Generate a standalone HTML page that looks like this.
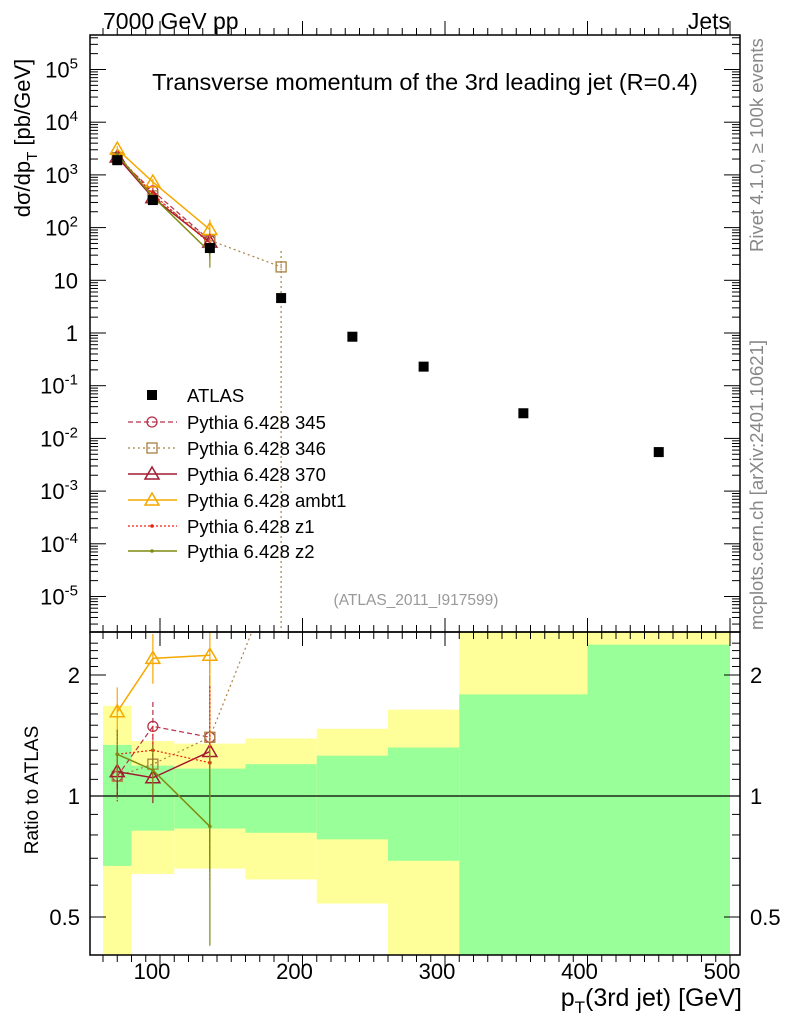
<!DOCTYPE html>
<html><head><meta charset="utf-8"><style>
html,body{margin:0;padding:0;background:#fff;}
svg{display:block;font-family:"Liberation Sans",sans-serif;}
</style></head><body>
<svg id="c" width="786" height="1024" viewBox="0 0 786 1024" xmlns="http://www.w3.org/2000/svg">
<text x="103" y="29" font-size="23">7000 GeV pp</text>
<text x="730" y="29" font-size="23" text-anchor="end">Jets</text>
<text x="425" y="90" font-size="23.5" text-anchor="middle">Transverse momentum of the 3rd leading jet (R=0.4)</text>
<text x="416" y="605" font-size="15.5" fill="#999" text-anchor="middle">(ATLAS_2011_I917599)</text>
<text transform="translate(763,252) rotate(-90)" font-size="18.5" fill="#888">Rivet 4.1.0, ≥ 100k events</text>
<text transform="translate(763,630) rotate(-90)" font-size="18.5" fill="#888">mcplots.cern.ch [arXiv:2401.10621]</text>
<text transform="translate(30,138) rotate(-90)" font-size="22" text-anchor="middle">dσ/dp<tspan font-size="15" dy="7">T</tspan><tspan dy="-7"> [pb/GeV]</tspan></text>
<text transform="translate(38,790) rotate(-90)" font-size="19" text-anchor="middle">Ratio to ATLAS</text>
<text x="742" y="1006" font-size="25" text-anchor="end">p<tspan font-size="17" dy="7">T</tspan><tspan dy="-7">(3rd jet) [GeV]</tspan></text>
<g id="bands"></g><g id="grid"></g><g id="series"></g><g id="legend"></g>
<rect x="90" y="35" width="650" height="597" fill="none" stroke="#000" stroke-width="1.5"/>
<rect x="90" y="632" width="650" height="323" fill="none" stroke="#000" stroke-width="1.5"/>
</svg>
<script>
const edges=[60,80,110,160,210,260,310,400,500];
const centers=[70,95,135,185,235,285,355,450];
const atlas=[1900,333,41,4.6,0.85,0.23,0.03,0.0055];
const yelHi=[1.675,1.37,1.35,1.39,1.47,1.64,3,3];
const yelLo=[0.3,0.64,0.66,0.62,0.54,0.3,0.3,0.3];
const grnHi=[1.34,1.19,1.17,1.20,1.26,1.32,1.79,2.38];
const grnLo=[0.67,0.82,0.83,0.81,0.78,0.69,0.3,0.3];
const xTicks=[100,200,300,400,500];
const yExp=[-5,-4,-3,-2,-1,0,1,2,3,4,5];
const rTicks=[0.5,1,2];
const mcNames=["Pythia 6.428 345","Pythia 6.428 346","Pythia 6.428 370","Pythia 6.428 ambt1","Pythia 6.428 z1","Pythia 6.428 z2"];
const r345=[1.12,1.49,1.40];
const r346=[1.12,1.20,1.40,3.9];
const r370=[1.15,1.11,1.29];
const rAmbt1=[1.62,2.2,2.24];
const rZ1=[1.27,1.30,1.21];
const rZ2=[1.27,1.16,0.84];
const styles=[
 {c:"#b8304a",d:"5,3",m:"circle",w:1.2},
 {c:"#a88040",d:"2,3",m:"square",w:1.2},
 {c:"#a01c30",d:"",m:"tri",w:1.5},
 {c:"#f5a800",d:"",m:"tri",w:1.5},
 {c:"#ee2010",d:"2,2",m:"dot",w:1.2},
 {c:"#7f8a10",d:"",m:"dot",w:1.5}];
const series=[r345,r346,r370,rAmbt1,rZ1,rZ2];
const NS="http://www.w3.org/2000/svg";
const X=v=>103+(v-60)*1.425;
const Y=v=>333-Math.log10(v)*52.7;
const R=v=>{let y=796-Math.log2(v)*121;return Math.max(632,Math.min(955,y));};
function el(tag,attrs,parent){const e=document.createElementNS(NS,tag);for(const k in attrs)e.setAttribute(k,attrs[k]);parent.appendChild(e);return e;}
const B=document.getElementById('bands'),G=document.getElementById('grid'),S=document.getElementById('series'),L=document.getElementById('legend');
for(let i=0;i<centers.length;i++){
 const x0=X(edges[i]),x1=X(edges[i+1]);
 let r=el('rect',{x:x0,y:R(yelHi[i]),width:x1-x0,height:R(yelLo[i])-R(yelHi[i]),fill:'#ffff99'},B);
 
 r=el('rect',{x:x0,y:R(grnHi[i]),width:x1-x0,height:R(grnLo[i])-R(grnHi[i]),fill:'#99ff99'},B);
 
}
let ln=el('line',{x1:90,x2:740,y1:R(1),y2:R(1),stroke:'#000','stroke-width':1.2},G);

for(let v=60;v<=500;v+=10){const big=v%100==0;
 for(const [yb,d] of [[632,1],[955,-1],[35,1],[632,-1]]){el('line',{x1:X(v),x2:X(v),y1:yb,y2:yb-d*(big?14:7),stroke:'#000'},G);}
}
xTicks.forEach(v=>{const t=el('text',{x:X(v)-8,y:979,'font-size':22,'text-anchor':'middle'},G);t.textContent=v;
 });
for(let e=-6;e<=5;e++){for(let m=1;m<10;m++){const v=m*Math.pow(10,e);const y=Y(v);if(y<35||y>632)continue;
 const w=m==1?16:8;el('line',{x1:90,x2:90+w,y1:y,y2:y,stroke:'#000'},G);el('line',{x1:740,x2:740-w,y1:y,y2:y,stroke:'#000'},G);}}
yExp.forEach(e=>{const y=Y(Math.pow(10,e));const t=el('text',{x:78,y:y+8,'font-size':22,'text-anchor':'end'},G);
 if(e==0)t.textContent='1';else if(e==1)t.textContent='10';else{t.textContent='10';const s=el('tspan',{dy:-9,'font-size':15},t);s.textContent=e;}
 });
for(let v=0.4;v<=2.5;v+=0.1){const y=R(v);if(y<=632||y>=955)continue;const big=[0.5,1,2].some(a=>Math.abs(a-v)<1e-6);const w=big?16:8;
 el('line',{x1:90,x2:90+w,y1:y,y2:y,stroke:'#000'},G);el('line',{x1:740,x2:740-w,y1:y,y2:y,stroke:'#000'},G);}
rTicks.forEach(v=>{for(const [x,a] of [[80,'end'],[750,'start']]){const t=el('text',{x:x,y:R(v)+8,'font-size':22,'text-anchor':a},G);t.textContent=v;
 }});
function marker(type,x,y,c,par){
 if(type=='circle')return el('circle',{cx:x,cy:y,r:5,fill:'none',stroke:c,'stroke-width':1.3},par);
 if(type=='square')return el('rect',{x:x-5,y:y-5,width:10,height:10,fill:'none',stroke:c,'stroke-width':1.3},par);
 if(type=='tri')return el('polygon',{points:`${x},${y-7} ${x-7},${y+5} ${x+7},${y+5}`,fill:'none',stroke:c,'stroke-width':1.5},par);
 return el('circle',{cx:x,cy:y,r:1.8,fill:c},par);
}
const clipM=el('clipPath',{id:'cm'},S);el('rect',{x:90,y:35,width:650,height:597},clipM);
const clipR=el('clipPath',{id:'cr'},S);el('rect',{x:90,y:632,width:650,height:323},clipR);
series.forEach((rs,k)=>{const st=styles[k];
 const gm=el('g',{'clip-path':'url(#cm)'},S);
 const gr=el('g',{'clip-path':'url(#cr)'},S);
 const pm=rs.map((r,i)=>X(centers[i])+','+Y(r*atlas[i])).join(' ');
 const pr=rs.map((r,i)=>X(centers[i])+','+(796-Math.log2(r)*121)).join(' ');
 el('polyline',{points:pm,fill:'none',stroke:st.c,'stroke-width':st.w,'stroke-dasharray':st.d},gm);
 el('polyline',{points:pr,fill:'none',stroke:st.c,'stroke-width':st.w,'stroke-dasharray':st.d},gr);
 rs.forEach((r,i)=>{const x=X(centers[i]);const err=i==2?0.55:0.15;
  el('line',{x1:x,x2:x,y1:Y(r*atlas[i]*(1+err)),y2:Y(r*atlas[i]*(1-err*0.9)),stroke:st.c,'stroke-width':1.2,'stroke-dasharray':st.d},gm);
  el('line',{x1:x,x2:x,y1:R(r*(1+err)),y2:R(r*(1-err*0.9)),stroke:st.c,'stroke-width':1.2,'stroke-dasharray':st.d},gr);
  marker(st.m,x,Y(r*atlas[i]),st.c,gm);marker(st.m,x,796-Math.log2(r)*121,st.c,gr);});
 if(k==1){const x=X(centers[3]);el('line',{x1:x,x2:x,y1:Y(rs[3]*atlas[3]*2),y2:640,stroke:st.c,'stroke-width':1.2,'stroke-dasharray':st.d},gm);}
});
atlas.forEach((v,i)=>{const r=el('rect',{x:X(centers[i])-5,y:Y(v)-5,width:10,height:10,fill:'#000'},S);
 });
const ly=[395,422,448,474,500,526,551];
el('rect',{x:147,y:ly[0]-5,width:10,height:10,fill:'#000'},L);
let t0=el('text',{x:187,y:ly[0]+7,'font-size':18.5},L);t0.textContent='ATLAS';

mcNames.forEach((n,k)=>{const st=styles[k];const y=ly[k+1];
 el('line',{x1:128,x2:177,y1:y,y2:y,stroke:st.c,'stroke-width':st.w,'stroke-dasharray':st.d},L);
 marker(st.m,152,y,st.c,L);
 const t=el('text',{x:187,y:y+7,'font-size':18.5},L);t.textContent=n;
 });
</script>
</body></html>
